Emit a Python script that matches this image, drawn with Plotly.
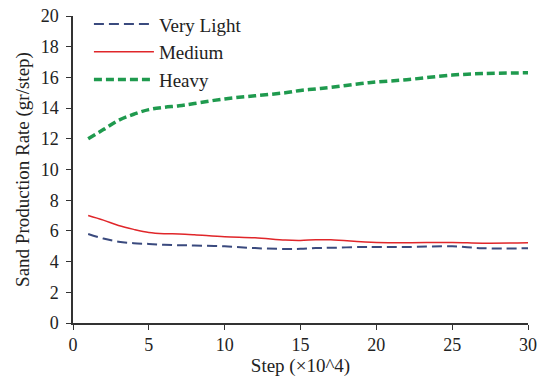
import plotly.graph_objects as go

steps = [1, 2, 3, 4, 5, 6, 7, 8, 10, 12, 14, 15, 16, 17, 19, 20, 22, 25, 27, 30]
very_light = [5.8, 5.5, 5.3, 5.2, 5.15, 5.1, 5.07, 5.05, 5.0, 4.88, 4.82, 4.83, 4.88, 4.9, 4.95, 4.95, 4.95, 5.0, 4.87, 4.87]
medium = [7.0, 6.7, 6.35, 6.1, 5.9, 5.82, 5.8, 5.75, 5.62, 5.55, 5.4, 5.38, 5.42, 5.42, 5.3, 5.25, 5.23, 5.25, 5.2, 5.22]
heavy = [12.0, 12.6, 13.2, 13.6, 13.9, 14.05, 14.15, 14.3, 14.6, 14.8, 15.0, 15.15, 15.25, 15.35, 15.6, 15.7, 15.85, 16.15, 16.25, 16.3]

FAM = "Liberation Serif, Times New Roman, serif"
font = dict(family=FAM, size=18, color="#222222")

fig = go.Figure()
fig.add_trace(go.Scatter(x=steps, y=very_light, mode="lines", name="Very Light",
                         line=dict(color="#3A4A7E", width=2, dash="10px,5px", shape="spline")))
fig.add_trace(go.Scatter(x=steps, y=medium, mode="lines", name="Medium",
                         line=dict(color="#E0262A", width=1.5, shape="spline")))
fig.add_trace(go.Scatter(x=steps, y=heavy, mode="lines", name="Heavy",
                         line=dict(color="#1F9A4E", width=3.5, dash="8px,4px", shape="spline")))

fig.update_layout(
    width=542, height=381,
    margin=dict(l=73, r=14, t=16, b=58, autoexpand=False),
    paper_bgcolor="white", plot_bgcolor="white",
    font=font,
    showlegend=True,
    legend=dict(x=0.035, y=1.035, xanchor="left", yanchor="top", bgcolor="rgba(0,0,0,0)",
                font=dict(family=FAM, size=19, color="#222222"),
                tracegroupgap=0, itemwidth=60),
)
fig.update_xaxes(range=[0, 30], tickvals=[0, 5, 10, 15, 20, 25, 30], showgrid=False,
                 zeroline=False, showline=True, linecolor="#333333", linewidth=1.5,
                 ticks="outside", ticklen=5, tickcolor="#333333", automargin=False,
                 ticklabeloverflow="allow",
                 title=dict(text="Step (×10^4)", font=dict(family=FAM, size=19), standoff=4))
fig.update_yaxes(range=[0, 20], tickvals=list(range(0, 21, 2)), showgrid=False,
                 zeroline=False, showline=True, linecolor="#333333", linewidth=1.5,
                 ticks="outside", ticklen=5, tickcolor="#333333", ticklabelstandoff=4, automargin=False,
                 ticklabeloverflow="allow",
                 title=dict(text="Sand Production Rate (gr/step)", font=dict(family=FAM, size=19), standoff=6))

fig.write_html("out.html", config={"displayModeBar": False},
               post_script="document.body.style.margin='0';document.body.style.overflow='hidden';")
